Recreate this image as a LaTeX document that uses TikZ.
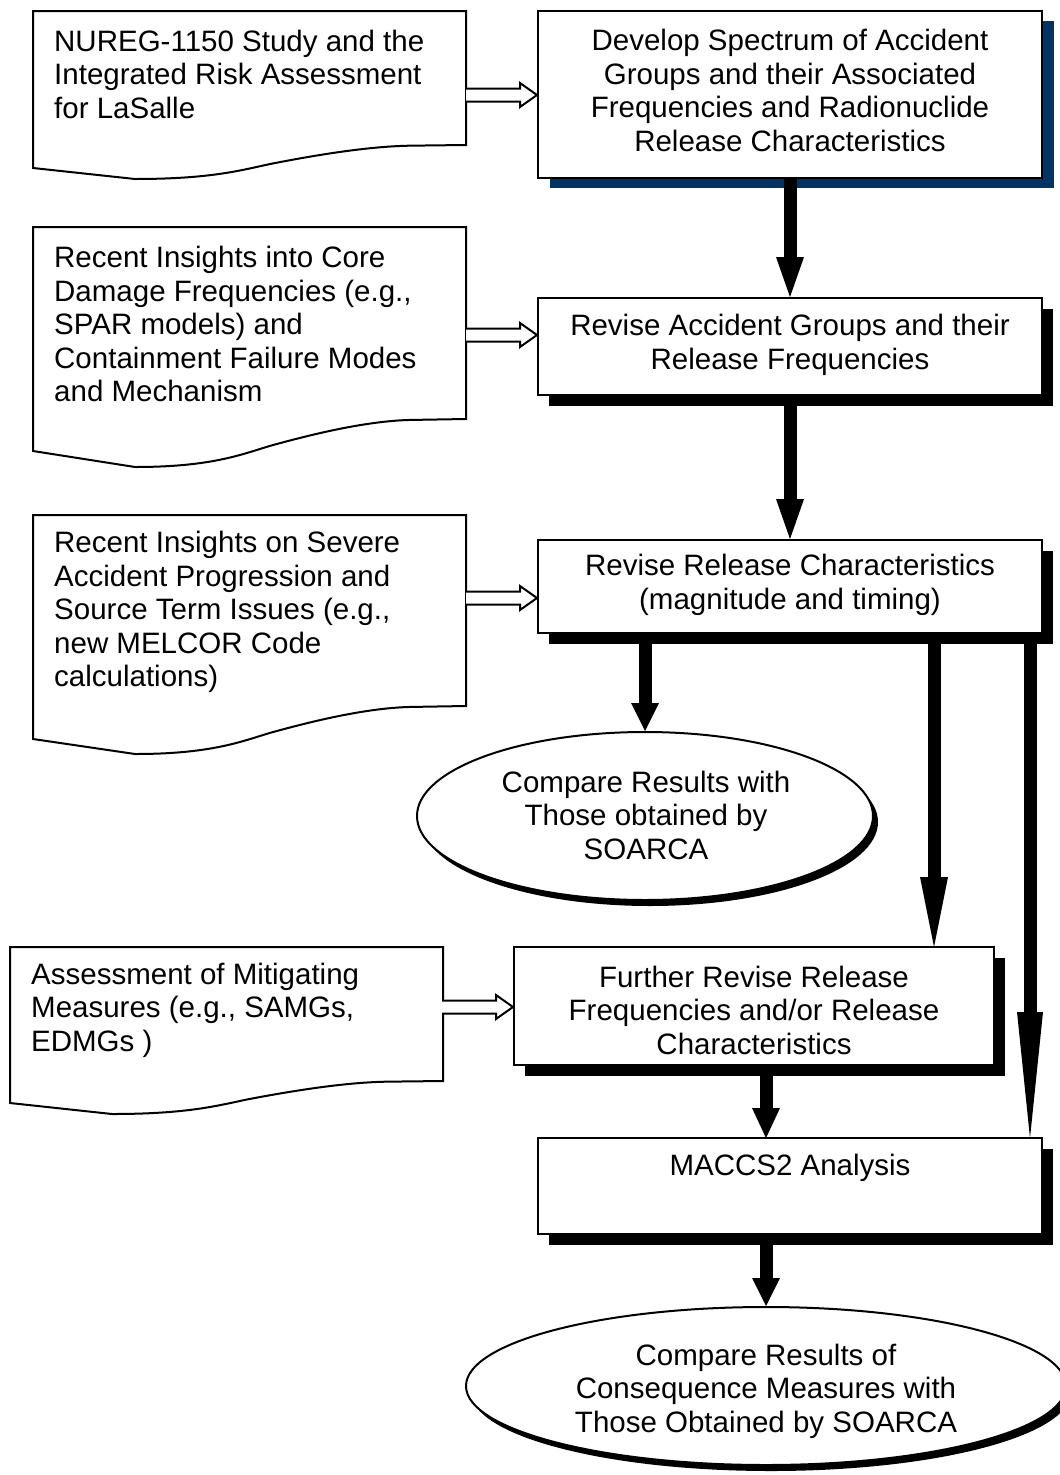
\documentclass[tikz,border=0pt]{standalone}
\usepackage{fontspec}
\setmainfont{Liberation Sans}
\usetikzlibrary{arrows.meta,shapes.geometric,shadows,calc}
\definecolor{navyshadow}{RGB}{0,51,102}
% document shape: #1 left x, #2 top y, #3 right-bottom y, #4 wave depth, #5 left-bottom offset
\newcommand\docshape[5]{%
  \draw[docline] (#1,#2) -- ({#1+433},#2) -- ({#1+433},#3) -- ({#1+377},{#3+0.02*#4})
    .. controls ({#1+337},{#3+0.04*#4}) and ({#1+287},{#3+0.27*#4}) .. ({#1+237},{#3+0.56*#4})
    .. controls ({#1+207},{#3+0.75*#4}) and ({#1+177},{#3+#4}) .. ({#1+102},{#3+#4})
    -- (#1,{#3+#5}) -- cycle;}
\newcommand\hollowarr[2]{%
  \draw[hollow] ($(#1)+(0,-6.5)$) -- ($(#2)+(-17,-6.5)$) -- ($(#2)+(-17,-12)$) -- (#2)
    -- ($(#2)+(-17,12)$) -- ($(#2)+(-17,6.5)$) -- ($(#1)+(0,6.5)$);}
\begin{document}
\begin{tikzpicture}[x=1pt,y=-1pt,
  docline/.style={draw=black, line width=2pt, fill=white, line join=miter},
  hollow/.style={draw=black, line width=2pt, fill=white, line join=miter},
  txt/.style={font=\fontsize{29.5}{33.5}\selectfont, inner sep=0pt},
  box/.style={rectangle, draw=black, line width=2pt, fill=white, inner sep=0pt, minimum width=504pt},
  blackshadow/.style={drop shadow={shadow xshift=11pt, shadow yshift=-11pt, fill=black, opacity=1}},
  navyshade/.style={drop shadow={shadow xshift=12pt, shadow yshift=-10pt, fill=navyshadow, opacity=1}},
  ellshadow/.style={drop shadow={shadow xshift=5pt, shadow yshift=-6pt, fill=black, opacity=1}},
  oval/.style={ellipse, draw=black, line width=2pt, fill=white, inner sep=0pt},
  bigarrow/.style={line width=13pt, -{Triangle[length=#1, width=28pt, line width=0pt]}},
  bigarrow/.default=40pt]
\path[use as bounding box] (0,0) rectangle (1060,1475);
\clip (0,0) rectangle (1060,1475);

% documents
\docshape{33}{11}{145}{34}{23}
\docshape{33}{227}{419}{48}{32}
\docshape{33}{515}{706}{48}{33}
\docshape{10}{947}{1081}{33}{22}
\node[txt, align=left, anchor=west] (d1) at (54,74) {NUREG-1150 Study and the\\Integrated Risk Assessment\\for LaSalle};
\node[txt, align=left, anchor=west] (d2) at (54,324) {Recent Insights into Core\\Damage Frequencies (e.g.,\\SPAR models) and\\Containment Failure Modes\\and Mechanism};
\node[txt, align=left, anchor=west] (d3) at (54,612) {Recent Insights on Severe\\Accident Progression and\\Source Term Issues (e.g.,\\new MELCOR Code\\calculations)};
\node[txt, align=left, anchor=west] (d4) at (31,1010) {Assessment of Mitigating\\Measures (e.g., SAMGs,\\EDMGs )};

% process boxes
\node[box, navyshade, minimum height=167pt] (b1) at (790,94.5) {};
\node[box, blackshadow, minimum height=97pt] (b2) at (790,346.5) {};
\node[box, blackshadow, minimum height=93pt] (b3) at (790,586.5) {};
\node[box, blackshadow, minimum width=480pt, minimum height=118pt] (b4) at (754,1006) {};
\node[box, blackshadow, minimum height=96pt] (b5) at (790,1186) {};
\node[oval, ellshadow, minimum width=456pt, minimum height=168pt] (e1) at (645,816) {};
\node[oval, ellshadow, minimum width=600pt, minimum height=158pt] (e2) at (766,1386) {};

\node[txt, align=center] (t1) at (790,90.5) {Develop Spectrum of Accident\\Groups and their Associated\\Frequencies and Radionuclide\\Release Characteristics};
\node[txt, align=center] (t2) at (790,345) {Revise Accident Groups and their\\Release Frequencies};
\node[txt, align=center] (t3) at (790,585) {Revise Release Characteristics\\(magnitude and timing)};
\node[txt, align=center] (t4) at (754,1010) {Further Revise Release\\Frequencies and/or Release\\Characteristics};
\node[txt, align=center] (t5) at (790,1168) {MACCS2 Analysis};
\node[txt, align=center] (t6) at (646,815) {Compare Results with\\Those obtained by\\SOARCA};
\node[txt, align=center] (t7) at (766,1391) {Compare Results of\\Consequence Measures with\\Those Obtained by SOARCA};

% hollow arrows
\coordinate (h1s) at (466,95);
\coordinate (h1e) at (b1.west |- h1s);
\coordinate (h2s) at (466,335);
\coordinate (h2e) at (b2.west |- h2s);
\coordinate (h3s) at (466,598);
\coordinate (h3e) at (b3.west |- h3s);
\coordinate (h4s) at (442,1007);
\coordinate (h4e) at (b4.west |- h4s);
\hollowarr{h1s}{h1e}
\hollowarr{h2s}{h2e}
\hollowarr{h3s}{h3e}
\hollowarr{h4s}{h4e}

% thick arrows
\coordinate (c4) at (934,947);
\coordinate (c5) at (1030,1138);
\coordinate (c6) at (766,1138);
\draw[bigarrow] (b1.south) -- (b2.north);
\draw[bigarrow] (b2.south) -- (b3.north);
\draw[bigarrow=28pt] (b3.south -| e1.north) -- (e1.north);
\draw[bigarrow=70pt] (b3.south -| c4) -- (c4);
\draw[line width=13pt, -{Triangle[length=126pt, width=26pt, line width=0pt]}] (b3.south -| c5) -- (c5);
\draw[bigarrow=30pt] (b4.south -| c6) -- (c6);
\draw[bigarrow=28pt] (b5.south -| e2.north) -- (e2.north);
\end{tikzpicture}
\end{document}
